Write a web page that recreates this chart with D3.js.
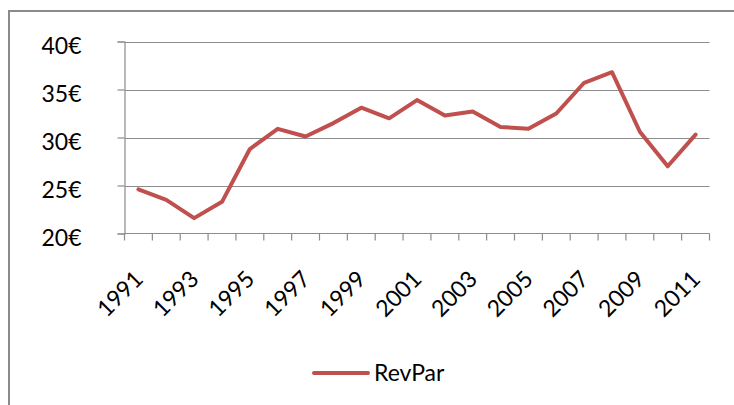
<!DOCTYPE html>
<html>
<head>
<meta charset="utf-8">
<script src="https://cdn.jsdelivr.net/npm/d3@7"></script>
<style>
  html, body { margin: 0; padding: 0; background: #fff; }
  svg { display: block; }
  text { font-family: Lato, "Open Sans", sans-serif; fill: #000; }
</style>
</head>
<body>
<svg id="chart" width="734" height="405"></svg>
<script>
const years = [1991,1992,1993,1994,1995,1996,1997,1998,1999,2000,2001,2002,2003,2004,2005,2006,2007,2008,2009,2010,2011];
const revpar = [24.6,23.5,21.6,23.3,28.8,30.9,30.1,31.5,33.1,32.0,33.9,32.3,32.7,31.1,30.9,32.5,35.7,36.8,30.6,27.0,30.3];
const yTicks = [20,25,30,35,40];
const seriesName = "RevPar";

const svg = d3.select("#chart");
const W = 734, H = 405;
const plot = {left: 124.5, right: 709.5, top: 41.5, bottom: 233.5};

// outer chart border
svg.append("rect")
  .attr("x", 9).attr("y", 11)
  .attr("width", 760).attr("height", 420)
  .attr("fill", "none").attr("stroke", "#8a8a8a").attr("stroke-width", 2);

const x = d3.scaleBand().domain(years).range([plot.left, plot.right]).paddingInner(0).paddingOuter(0);
const y = d3.scaleLinear().domain([20, 40]).range([plot.bottom, plot.top]);

// gridlines
svg.append("g").selectAll("line").data(yTicks.filter(d => d !== 20)).join("line")
  .attr("x1", plot.left).attr("x2", plot.right)
  .attr("y1", d => Math.round(y(d)) + 0.5).attr("y2", d => Math.round(y(d)) + 0.5)
  .attr("stroke", "#8c8c8c").attr("stroke-width", 1.2);

// y axis
const yAxis = d3.axisLeft(y).tickValues(yTicks).tickSize(7).tickPadding(36)
  .tickFormat(d => d + "€");
const gy = svg.append("g").attr("transform", `translate(${plot.left},0)`).call(yAxis);
gy.select(".domain").attr("stroke", "#8c8c8c").attr("stroke-width", 1.2);
gy.selectAll(".tick line").attr("stroke", "#8c8c8c").attr("stroke-width", 1.2);
gy.selectAll(".tick text")
  .attr("font-family", "Lato, 'Open Sans', sans-serif")
  .attr("font-size", 23).attr("fill", "#000")
  .attr("dy", "0.32em")
  .attr("transform", "translate(0,5)");

// x axis: tick marks at category boundaries
const boundaries = years.map(d => x(d)).concat([plot.right]);
const gx = svg.append("g");
gx.append("line")
  .attr("x1", plot.left).attr("x2", plot.right)
  .attr("y1", plot.bottom).attr("y2", plot.bottom)
  .attr("stroke", "#8c8c8c").attr("stroke-width", 1.2);
gx.selectAll("line.tk").data(boundaries).join("line").attr("class", "tk")
  .attr("x1", d => d).attr("x2", d => d)
  .attr("y1", plot.bottom).attr("y2", plot.bottom + 7)
  .attr("stroke", "#8c8c8c").attr("stroke-width", 1.2);

// x labels, every other year, rotated -45
gx.selectAll("text").data(years.filter((d, i) => i % 2 === 0)).join("text")
  .attr("font-size", 23)
  .attr("text-anchor", "end")
  .attr("transform", d => `translate(${x(d) + x.bandwidth() / 2 + 6},${plot.bottom + 47}) rotate(-45)`)
  .text(d => d);

// line
const line = d3.line()
  .x((d, i) => x(years[i]) + x.bandwidth() / 2)
  .y(d => y(d));
svg.append("path").datum(revpar)
  .attr("d", line)
  .attr("fill", "none")
  .attr("stroke", "#C0504D")
  .attr("stroke-width", 4)
  .attr("stroke-linejoin", "round")
  .attr("stroke-linecap", "round");

// legend
const lg = svg.append("g");
lg.append("line")
  .attr("x1", 314).attr("x2", 368).attr("y1", 373).attr("y2", 373)
  .attr("stroke", "#C0504D").attr("stroke-width", 4).attr("stroke-linecap", "round");
lg.append("text")
  .attr("x", 374).attr("y", 381)
  .attr("font-size", 23).attr("fill", "#222")
  .text(seriesName);
</script>
</body>
</html>
